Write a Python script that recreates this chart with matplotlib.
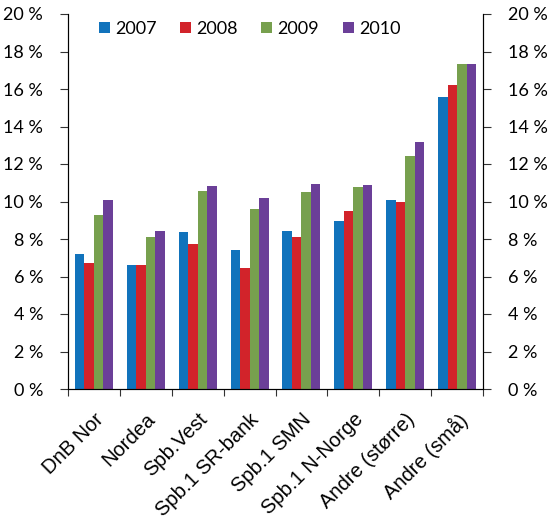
import numpy as np
import matplotlib.pyplot as plt
from matplotlib.ticker import FuncFormatter

banker = ["DnB Nor", "Nordea", "Spb.Vest", "Spb.1 SR-bank", "Spb.1 SMN",
          "Spb.1 N-Norge", "Andre (større)", "Andre (små)"]
aar = ["2007", "2008", "2009", "2010"]
v2007 = [7.2, 6.6, 8.35, 7.4, 8.45, 8.95, 10.1, 15.6]
v2008 = [6.7, 6.6, 7.75, 6.45, 8.1, 9.5, 9.95, 16.2]
v2009 = [9.3, 8.1, 10.55, 9.6, 10.5, 10.75, 12.45, 17.35]
v2010 = [10.1, 8.45, 10.85, 10.2, 10.95, 10.9, 13.15, 17.35]
farger = ["#1173bc", "#d2232a", "#77a04e", "#6b3f98"]

plt.rcParams['font.family'] = ['Lato', 'DejaVu Sans']

fig = plt.figure(figsize=(5.5, 5.18), dpi=100)
ax = fig.add_axes([68/550, 1-389/518, 415/550, 375/518])

x = np.arange(len(banker))
w = 0.183
for i, (serie, farge) in enumerate(zip([v2007, v2008, v2009, v2010], farger)):
    ax.bar(x + (i-1.5)*w, serie, w, color=farge, label=aar[i])

ax.set_xlim(-0.5, len(banker)-0.5)
ax.set_ylim(0, 20)
ax.set_yticks(np.arange(0, 21, 2))
fmt = FuncFormatter(lambda v, p: "%d %%" % v)
ax.yaxis.set_major_formatter(fmt)
ax.tick_params(axis="y", direction="out", length=6, pad=12, labelsize=13,
               color="#333333")

ax.set_xticks(np.arange(-0.5, len(banker), 1))
ax.set_xticklabels([])
ax.set_xticks(x, minor=True)
ax.set_xticklabels(banker, minor=True, rotation=45, ha="right",
                   rotation_mode="anchor", fontsize=14.5, family="Liberation Sans")
ax.tick_params(axis="x", which="major", direction="out", length=5, color="#333333")
ax.tick_params(axis="x", which="minor", length=0, pad=15)

ax.spines["top"].set_visible(False)
for s in ["left", "right", "bottom"]:
    ax.spines[s].set_color("#333333")

ax2 = ax.twinx()
ax2.set_ylim(0, 20)
ax2.set_yticks(np.arange(0, 21, 2))
ax2.yaxis.set_major_formatter(fmt)
ax2.tick_params(axis="y", direction="out", length=6, pad=12, labelsize=13,
                color="#333333")
ax2.spines["top"].set_visible(False)

ax.legend(loc="upper left", bbox_to_anchor=(0.035, 1.025), ncol=4, frameon=False,
          fontsize=13, handlelength=0.6, handleheight=0.6, handletextpad=0.3,
          columnspacing=1.3)

fig.savefig("out.png", dpi=100)
